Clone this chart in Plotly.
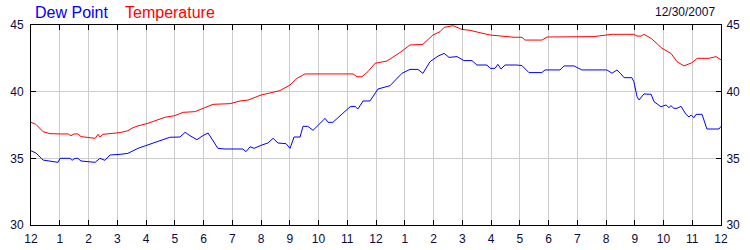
import plotly.graph_objects as go

# ---- data (hours after midnight, 12/30/2007) ----
temp_hours = [0.00, 0.17, 0.42, 0.66, 1.01, 1.29, 1.39, 1.50, 1.63, 1.74, 2.23, 2.33, 2.40, 2.50,
              3.10, 3.37, 3.55, 3.72, 4.07, 4.31, 4.66, 5.00, 5.29, 5.70, 5.98, 6.33, 6.92, 7.27,
              7.55, 8.00, 8.31, 8.66, 9.01, 9.25, 9.53, 11.20, 11.34, 11.51, 11.72, 11.97, 12.38,
              12.83, 13.18, 13.63, 13.98, 14.23, 14.37, 14.68, 14.99, 15.27, 15.62, 15.97, 16.80,
              17.08, 17.18, 17.77, 17.95, 19.58, 20.21, 20.97, 21.08, 21.22, 21.32, 21.57, 21.95,
              22.26, 22.47, 22.71, 22.99, 23.17, 23.58, 23.83, 24.00]
temp_values = [37.70, 37.55, 37.00, 36.85, 36.83, 36.83, 36.70, 36.83, 36.83, 36.63, 36.50, 36.80, 36.60, 36.80,
               36.93, 37.07, 37.30, 37.43, 37.63, 37.80, 38.08, 38.20, 38.45, 38.50, 38.75, 39.05, 39.10, 39.30,
               39.37, 39.75, 39.90, 40.08, 40.50, 41.00, 41.33, 41.33, 41.12, 41.12, 41.50, 42.13, 42.30,
               42.93, 43.50, 43.55, 44.25, 44.50, 44.82, 44.95, 44.67, 44.60, 44.42, 44.25, 44.08,
               44.08, 43.87, 43.87, 44.10, 44.13, 44.30, 44.30, 44.17, 44.17, 44.30, 44.00, 43.25,
               42.87, 42.25, 41.93, 42.17, 42.50, 42.50, 42.63, 42.38]

dew_hours = [0.00, 0.17, 0.42, 0.94, 1.01, 1.36, 1.43, 1.53, 1.63, 1.74, 2.23, 2.40, 2.57, 2.75,
             3.10, 3.37, 3.72, 4.07, 4.49, 4.83, 5.18, 5.36, 5.53, 5.77, 5.98, 6.16, 6.50, 6.75,
             7.37, 7.48, 7.62, 7.76, 8.03, 8.24, 8.42, 8.59, 8.87, 9.01, 9.15, 9.36, 9.46, 9.63,
             9.81, 9.95, 10.23, 10.33, 10.50, 10.68, 11.10, 11.27, 11.37, 11.55, 11.79, 12.07,
             12.49, 12.90, 13.18, 13.46, 13.63, 13.88, 14.16, 14.37, 14.54, 14.82, 15.06, 15.34,
             15.51, 15.86, 15.97, 16.14, 16.24, 16.35, 16.49, 16.90, 17.08, 17.32, 17.77, 17.88,
             18.40, 18.54, 18.89, 19.16, 20.03, 20.21, 20.38, 20.52, 20.63, 20.90, 20.97, 21.08,
             21.15, 21.32, 21.57, 21.67, 21.91, 22.09, 22.19, 22.26, 22.36, 22.47, 22.61, 22.78,
             22.89, 22.96, 23.06, 23.13, 23.34, 23.51, 23.93, 24.00]
dew_values = [35.57, 35.40, 34.87, 34.70, 35.00, 35.00, 34.85, 35.00, 35.00, 34.80, 34.70, 35.00, 34.85, 35.25,
              35.30, 35.37, 35.75, 36.00, 36.30, 36.58, 36.60, 36.95, 36.70, 36.40, 36.70, 36.90, 35.75, 35.70,
              35.70, 35.50, 35.87, 35.75, 36.00, 36.15, 36.50, 36.15, 36.10, 35.75, 36.60, 36.60, 37.40, 37.40,
              37.10, 37.42, 38.00, 37.70, 37.70, 38.05, 38.87, 38.90, 38.70, 39.30, 39.30, 40.20,
              40.45, 41.37, 41.67, 41.67, 41.37, 42.25, 42.67, 42.87, 42.57, 42.63, 42.33, 42.33,
              42.00, 42.00, 41.75, 41.75, 42.05, 41.70, 42.00, 42.00, 41.95, 41.43, 41.43, 41.63,
              41.63, 41.93, 41.93, 41.63, 41.63, 41.38, 41.63, 41.33, 41.05, 41.05, 40.75, 39.63,
              39.38, 39.83, 39.80, 39.25, 38.87, 39.00, 38.80, 38.95, 38.75, 38.75, 38.90, 38.30,
              38.10, 38.25, 38.05, 38.30, 38.30, 37.20, 37.20, 37.40]

hour_ticks = list(range(0, 25))
hour_labels = ["12", "1", "2", "3", "4", "5", "6", "7", "8", "9", "10", "11",
               "12", "1", "2", "3", "4", "5", "6", "7", "8", "9", "10", "11", "12"]
y_ticks = [30, 35, 40, 45]
date_label = "12/30/2007"
series_names = ["Dew Point", "Temperature"]

FONT = "Liberation Sans, Arial, sans-serif"
TXT = "#0a0a3c"

fig = go.Figure()
fig.add_trace(go.Scatter(x=temp_hours, y=temp_values, mode="lines", name=series_names[1],
                         line=dict(color="#ff0000", width=1), yaxis="y"))
fig.add_trace(go.Scatter(x=dew_hours, y=dew_values, mode="lines", name=series_names[0],
                         line=dict(color="#0000ff", width=1), yaxis="y2"))

axis_common = dict(showline=True, linecolor="black", linewidth=1, automargin=False,
                   ticks="inside", tickcolor="black", ticklen=5, tickwidth=1,
                   zeroline=False,
                   tickfont=dict(family=FONT, size=12, color=TXT))

fig.update_layout(
    width=750, height=250,
    margin=dict(l=31, r=29, t=25, b=25),
    paper_bgcolor="white", plot_bgcolor="white",
    showlegend=False,
    xaxis=dict(range=[0, 24], tickvals=hour_ticks, ticktext=hour_labels, mirror="ticks",
               gridcolor="#cccccc", gridwidth=1, ticklabelstandoff=3, **axis_common),
    yaxis=dict(range=[30, 45], tickvals=y_ticks, side="left", mirror=True,
               gridcolor="#cccccc", gridwidth=1, ticklabelstandoff=4, **axis_common),
    yaxis2=dict(range=[30, 45], tickvals=y_ticks, side="right", overlaying="y",
                showgrid=False, ticklabelstandoff=2, **axis_common),
    annotations=[
        dict(text=series_names[0], xref="paper", yref="paper", x=0.003, y=1.065,
             xanchor="left", yanchor="middle", showarrow=False,
             font=dict(family=FONT, size=16, color="#0000ff")),
        dict(text=series_names[1], xref="paper", yref="paper", x=0.133, y=1.065,
             xanchor="left", yanchor="middle", showarrow=False,
             font=dict(family=FONT, size=16, color="#ff0000")),
        dict(text=date_label, xref="paper", yref="paper", x=0.994, y=1.065,
             xanchor="right", yanchor="middle", showarrow=False,
             font=dict(family=FONT, size=12, color=TXT)),
    ],
)

fig.write_html("out.html")
